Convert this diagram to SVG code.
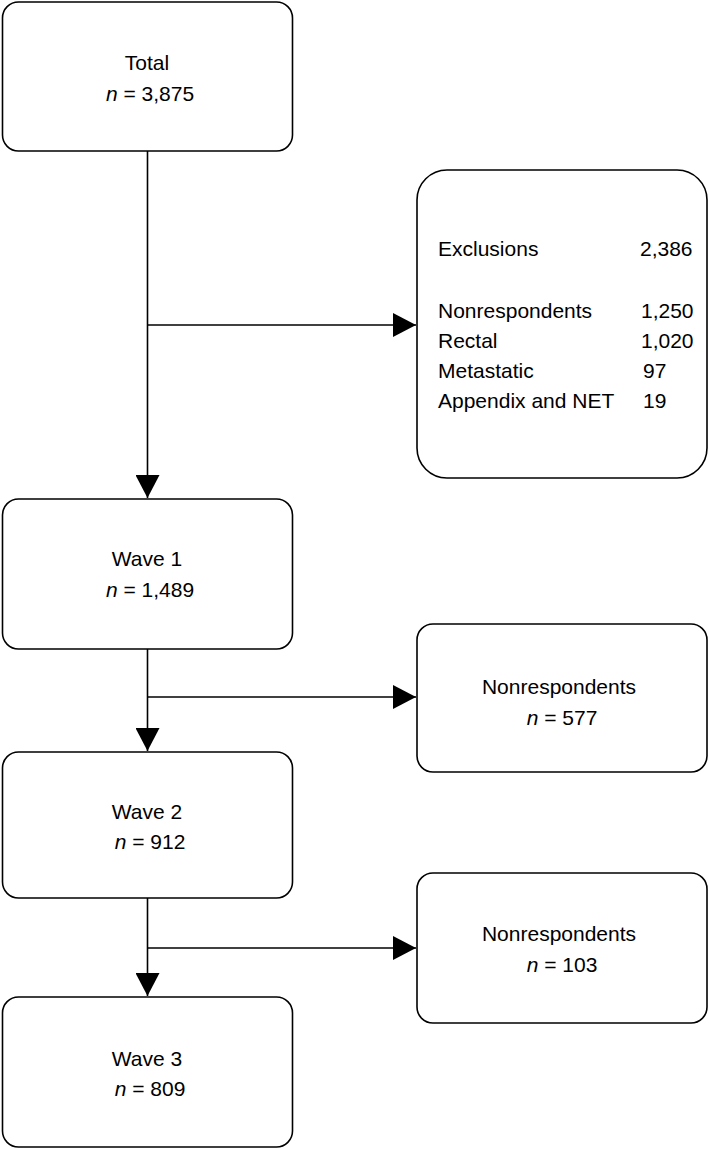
<svg xmlns="http://www.w3.org/2000/svg" width="709" height="1149" viewBox="0 0 709 1149">
<style>
.box{fill:#fff;stroke:#000;stroke-width:1.6}
.t{font-family:"Liberation Sans",Arial,sans-serif;font-size:21px;fill:#000}
.c{text-anchor:middle}
.conn{fill:none;stroke:#000;stroke-width:1.6}
</style>
<defs>
<marker id="ah" markerUnits="userSpaceOnUse" markerWidth="24" markerHeight="24" viewBox="0 0 24 24" refX="23" refY="12" orient="auto">
<path d="M0,0 L23,12 L0,24 Z" fill="#000"/>
</marker>
</defs>
<rect width="709" height="1149" fill="#fff"/>
<g id="connectors">
<path class="conn" d="M147.5,151 V498" marker-end="url(#ah)"/>
<path class="conn" d="M147.5,325 H416" marker-end="url(#ah)"/>
<path class="conn" d="M147.5,649 V751" marker-end="url(#ah)"/>
<path class="conn" d="M147.5,697 H416" marker-end="url(#ah)"/>
<path class="conn" d="M147.5,898 V996" marker-end="url(#ah)"/>
<path class="conn" d="M147.5,948 H416" marker-end="url(#ah)"/>
</g>
<g id="total">
<rect class="box" x="2.5" y="2" width="290" height="149" rx="16"/>
<text class="t c" x="147" y="70">Total</text>
<text class="t c" x="150" y="101"><tspan font-style="italic">n</tspan> = 3,875</text>
</g>
<g id="exclusions">
<rect class="box" x="417" y="170" width="290" height="308" rx="30"/>
<text class="t" x="438" y="256">Exclusions</text>
<text class="t" x="640" y="256">2,386</text>
<text class="t" x="438" y="318">Nonrespondents</text>
<text class="t" x="641" y="318">1,250</text>
<text class="t" x="438" y="348">Rectal</text>
<text class="t" x="641" y="348">1,020</text>
<text class="t" x="438" y="378">Metastatic</text>
<text class="t" x="643" y="378">97</text>
<text class="t" x="438" y="408">Appendix and NET</text>
<text class="t" x="643" y="408">19</text>
</g>
<g id="wave1">
<rect class="box" x="2.5" y="499" width="290" height="150" rx="16"/>
<text class="t c" x="147" y="566">Wave 1</text>
<text class="t c" x="150" y="597"><tspan font-style="italic">n</tspan> = 1,489</text>
</g>
<g id="nonresp1">
<rect class="box" x="417" y="624" width="290" height="148" rx="16"/>
<text class="t c" x="559" y="694">Nonrespondents</text>
<text class="t c" x="562" y="725"><tspan font-style="italic">n</tspan> = 577</text>
</g>
<g id="wave2">
<rect class="box" x="2.5" y="752" width="290" height="146" rx="16"/>
<text class="t c" x="147" y="819">Wave 2</text>
<text class="t c" x="150" y="849"><tspan font-style="italic">n</tspan> = 912</text>
</g>
<g id="nonresp2">
<rect class="box" x="417" y="873" width="290" height="150" rx="16"/>
<text class="t c" x="559" y="941">Nonrespondents</text>
<text class="t c" x="562" y="972"><tspan font-style="italic">n</tspan> = 103</text>
</g>
<g id="wave3">
<rect class="box" x="2.5" y="997" width="290" height="150" rx="16"/>
<text class="t c" x="147" y="1066">Wave 3</text>
<text class="t c" x="150" y="1096"><tspan font-style="italic">n</tspan> = 809</text>
</g>
</svg>
